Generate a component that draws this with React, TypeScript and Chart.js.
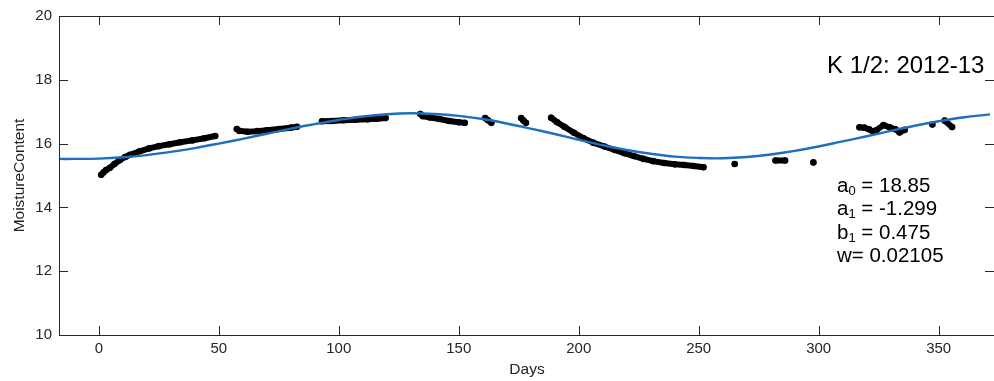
import { useEffect, useRef } from 'react';
import { Chart, registerables } from 'chart.js';

Chart.register(...registerables);

// Fitted curve
const fitDays = [-17, -10, 0, 10, 20, 30, 40, 50, 60, 70, 80, 90, 100, 110, 120, 130, 140, 150, 160, 170, 180, 190, 200, 210, 220, 230, 240, 250, 260, 270, 280, 290, 300, 310, 320, 330, 340, 350, 360, 372];
const fitValues = [15.52, 15.52, 15.53, 15.57, 15.64, 15.74, 15.86, 16.0, 16.15, 16.31, 16.47, 16.61, 16.74, 16.85, 16.92, 16.95, 16.93, 16.87, 16.77, 16.63, 16.47, 16.3, 16.12, 15.95, 15.8, 15.68, 15.59, 15.55, 15.54, 15.58, 15.66, 15.77, 15.91, 16.07, 16.23, 16.4, 16.56, 16.7, 16.82, 16.92];

// Observed moisture content (null = gap between runs of measurements)
const obsDays = [
  1, 2, 3, 4.6, 6.5, 8.7, 11, 13, 17, 21, 25, 29.5, 34, 39, 44, 48.5, null,
  57.5, 58.5, 62, 66, 70, 75, 80, 82.6, null,
  93, 97, 102, 107, 112, 116, 119.5, null,
  134, 135, 138, 142, 146, 150, 152.5, null,
  161, 162.2, 163.6, null,
  176, 177, 178, null,
  188.5, 191, 194, 198, 202, 206, 210.7, 215, 219, 223, 227, 231, 235.6, 240, 244, 248, 252, null,
  265, null,
  282, 286, null,
  297.8, null,
  317, 319, 321, 322.6, 324, 327, 329.6, 332, 333.7, 335.8, null,
  347.4, null,
  352.5, 355.6,
];
const obsValues = [
  15.02, 15.1, 15.17, 15.24, 15.36, 15.48, 15.58, 15.65, 15.76, 15.85, 15.92, 15.98, 16.04, 16.1, 16.17, 16.24, null,
  16.46, 16.4, 16.37, 16.39, 16.42, 16.46, 16.5, 16.53, null,
  16.7, 16.71, 16.73, 16.75, 16.76, 16.78, 16.8, null,
  16.93, 16.86, 16.82, 16.77, 16.71, 16.67, 16.65, null,
  16.8, 16.73, 16.65, null,
  16.8, 16.72, 16.65, null,
  16.81, 16.67, 16.53, 16.34, 16.17, 16.03, 15.91, 15.8, 15.7, 15.61, 15.52, 15.45, 15.39, 15.35, 15.33, 15.3, 15.26, null,
  15.36, null,
  15.47, 15.47, null,
  15.41, null,
  16.51, 16.5, 16.45, 16.38, 16.42, 16.58, 16.51, 16.45, 16.35, 16.43, null,
  16.6, null,
  16.72, 16.52,
];

const xTicks = [0, 50, 100, 150, 200, 250, 300, 350];
const yTicks = [10, 12, 14, 16, 18, 20];
const xTitle = 'Days';
const yTitle = 'MoistureContent';
const panelLabel = 'K 1/2: 2012-13';
const coefLines: [string, string, string][] = [
  ['a', '0', ' = 18.85'],
  ['a', '1', ' = -1.299'],
  ['b', '1', ' = 0.475'],
  ['w', '', '= 0.02105'],
];

const TICK_FONT = '"Liberation Sans", Arial, Helvetica, sans-serif';
const TEXT_FONT = '"Liberation Sans", Arial, Helvetica, sans-serif';
const AXIS_COLOR = '#262626';
const FIT_COLOR = 'rgb(30,112,190)';

const framePlugin = {
  id: 'matlabFrame',
  afterDatasetsDraw(chart: any) {
    const { ctx, chartArea } = chart;
    const { left, top, bottom } = chartArea;
    // the right-hand axis line sits just beyond the visible picture
    const right = chartArea.right + 4;
    const xs = chart.scales.x;
    const ys = chart.scales.y;
    const tl = 9;
    ctx.save();
    ctx.strokeStyle = AXIS_COLOR;
    ctx.lineWidth = 1;
    ctx.beginPath();
    ctx.rect(left + 0.5, top + 0.5, right - left, bottom - top);
    xTicks.forEach((v) => {
      const px = Math.round(xs.getPixelForValue(v)) + 0.5;
      ctx.moveTo(px, bottom);
      ctx.lineTo(px, bottom - tl);
      ctx.moveTo(px, top);
      ctx.lineTo(px, top + tl);
    });
    yTicks.forEach((v) => {
      const py = Math.round(ys.getPixelForValue(v)) + 0.5;
      ctx.moveTo(left, py);
      ctx.lineTo(left + tl, py);
      ctx.moveTo(right, py);
      ctx.lineTo(right - tl, py);
    });
    ctx.stroke();

    // axis titles
    ctx.fillStyle = '#222';
    ctx.font = `15.5px ${TEXT_FONT}`;
    ctx.textAlign = 'center';
    ctx.textBaseline = 'alphabetic';
    ctx.fillText(xTitle, 527, 374);
    ctx.save();
    ctx.translate(24, 175.5);
    ctx.rotate(-Math.PI / 2);
    ctx.fillText(yTitle, 0, 0);
    ctx.restore();

    // panel label
    ctx.fillStyle = '#000';
    ctx.textAlign = 'left';
    ctx.font = `24px ${TEXT_FONT}`;
    ctx.fillText(panelLabel, 827, 72.5);

    // coefficients
    const baseSize = 20.5;
    const subSize = 13;
    coefLines.forEach(([base, sub, rest], i) => {
      const y = 191.5 + i * 23.5;
      let x = 837;
      ctx.font = `${baseSize}px ${TEXT_FONT}`;
      ctx.fillText(base, x, y);
      x += ctx.measureText(base).width;
      if (sub) {
        ctx.font = `${subSize}px ${TEXT_FONT}`;
        ctx.fillText(sub, x, y + 3);
        x += ctx.measureText(sub).width;
      }
      ctx.font = `${baseSize}px ${TEXT_FONT}`;
      ctx.fillText(rest, x, y);
    });
    ctx.restore();
  },
};

export default function App() {
  const ref = useRef<HTMLCanvasElement>(null);
  useEffect(() => {
    document.body.style.margin = '0';
    const obsData = obsDays.map((d, i) => {
      let x = d;
      if (x === null) {
        x = obsDays[i - 1] as number;
      }
      return { x, y: obsValues[i] };
    });
    const fitData = fitDays.map((d, i) => ({ x: d, y: fitValues[i] }));
    const chart = new Chart(ref.current!, {
      type: 'line',
      data: {
        datasets: [
          {
            label: 'fit',
            data: fitData,
            borderColor: FIT_COLOR,
            borderWidth: 2.4,
            pointRadius: 0,
            tension: 0.4,
            fill: false,
            order: 0,
          },
          {
            label: 'observed',
            data: obsData as any,
            borderColor: '#000',
            backgroundColor: '#000',
            borderWidth: 6,
            borderCapStyle: 'round',
            borderJoinStyle: 'round',
            pointRadius: 3.3,
            pointBorderWidth: 0,
            pointBackgroundColor: '#000',
            tension: 0,
            spanGaps: false,
            fill: false,
            order: 1,
          },
        ],
      },
      options: {
        responsive: false,
        animation: false,
        events: [],
        layout: { padding: { top: 15, right: 0, left: 0, bottom: 0 } },
        plugins: {
          legend: { display: false },
          tooltip: { enabled: false },
        },
        scales: {
          x: {
            type: 'linear',
            min: -16.6,
            max: 371.4,
            grid: { display: false, drawTicks: false },
            border: { display: false },
            ticks: {
              includeBounds: false,
              autoSkip: false,
              maxRotation: 0,
              padding: 5,
              color: '#262626',
              font: { family: TICK_FONT, size: 15 },
            },
            afterBuildTicks: (s: any) => {
              s.ticks = xTicks.map((v) => ({ value: v }));
            },
            afterFit: (s: any) => {
              s.height = 46;
            },
          },
          y: {
            type: 'linear',
            min: 10,
            max: 20,
            grid: { display: false, drawTicks: false },
            border: { display: false },
            ticks: {
              includeBounds: false,
              autoSkip: false,
              padding: 7,
              color: '#262626',
              font: { family: TICK_FONT, size: 15 },
            },
            afterBuildTicks: (s: any) => {
              s.ticks = yTicks.map((v) => ({ value: v }));
            },
            afterFit: (s: any) => {
              s.width = 59;
            },
          },
        },
      },
      plugins: [framePlugin],
    });
    return () => chart.destroy();
  }, []);
  return (
    <div style={{ width: 994, height: 381, overflow: 'hidden', background: '#fff' }}>
      <canvas ref={ref} width={994} height={381} style={{ display: 'block' }} />
    </div>
  );
}
